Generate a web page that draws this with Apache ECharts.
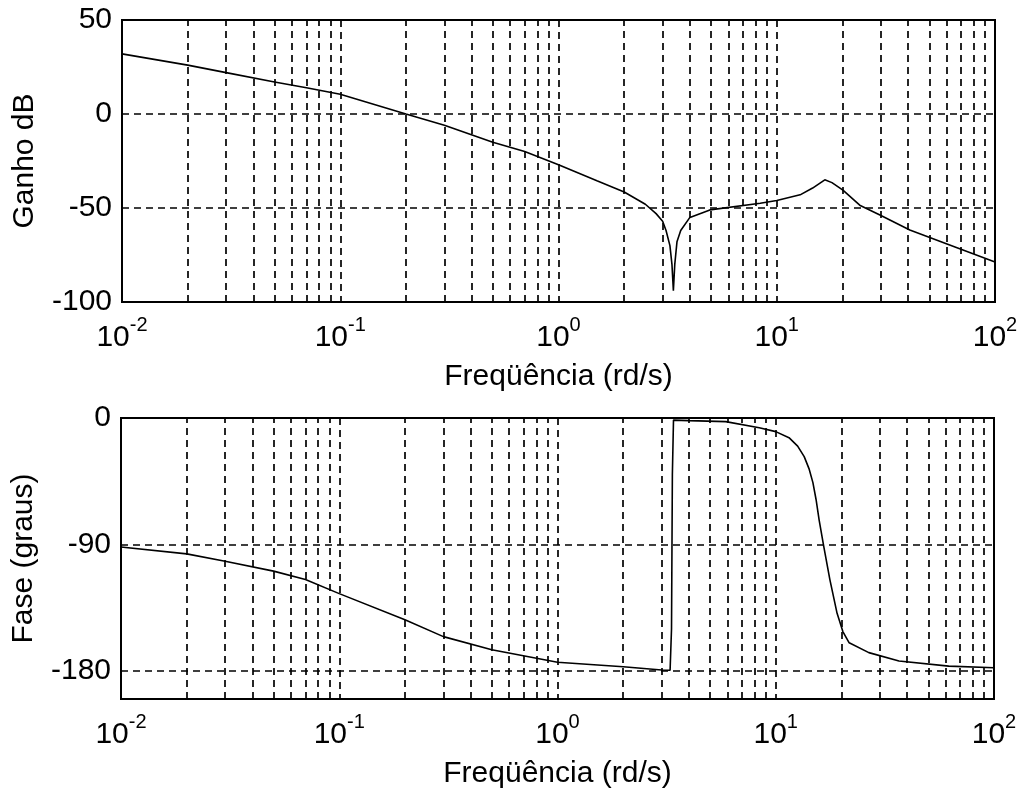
<!DOCTYPE html>
<html>
<head>
<meta charset="utf-8">
<script src="https://cdn.jsdelivr.net/npm/echarts@6/dist/echarts.min.js"></script>
<style>
html,body{margin:0;padding:0;background:#fff;}
#chart{width:1021px;height:797px;}
</style>
</head>
<body>
<div id="chart"></div>
<script>
// ---- data ----
const gainFreq = [0.01, 0.02, 0.03, 0.05, 0.07, 0.1, 0.2, 0.3, 0.5, 0.7, 1, 1.5, 2, 2.5, 2.8, 3.0, 3.11, 3.24, 3.31, 3.36, 3.41, 3.49, 3.63, 4.0, 4.94, 8.4, 10, 12.8, 14.6, 16.6, 17.9, 20.1, 24, 29.7, 40.7, 62, 100];
const gainDb   = [32, 26, 22, 17, 14, 10.5, 0, -6, -15, -20, -27, -35.5, -41.5, -48, -53, -57, -62, -70, -80, -94, -80, -68, -62, -55, -51, -47.5, -46, -43, -39.4, -35, -36.5, -40.5, -48.5, -53.7, -61.7, -69.7, -78.7];

const phaseFreq = [0.01, 0.02, 0.03, 0.05, 0.07, 0.1, 0.2, 0.3, 0.5, 1, 2, 3, 3.28, 3.33, 3.36, 3.4, 4.0, 5.9, 8.4, 10, 11.5, 12.6, 13.5, 14.2, 14.8, 15.3, 15.8, 16.6, 17.7, 19.1, 20.3, 21.7, 26.7, 36.7, 62, 100];
const phaseDeg  = [-91.8, -96.7, -102, -109, -115, -125, -143.6, -155.6, -165, -173.8, -177, -179.4, -179.5, -150, -40, -1.5, -1.9, -2.6, -7, -9.7, -14, -20, -27.5, -36, -46, -58, -72.5, -91.5, -115, -139, -152, -160, -167, -173, -176.6, -177.8];

const minorFreqs = [0.02,0.03,0.04,0.05,0.06,0.07,0.08,0.09,
                    0.2,0.3,0.4,0.5,0.6,0.7,0.8,0.9,
                    2,3,4,5,6,7,8,9,
                    20,30,40,50,60,70,80,90];
const gainTicks  = [-100, -50, 0, 50];
const phaseTicks = [0, -90, -180];

// ---- chart ----
const FONT = "'Liberation Sans', Arial, Helvetica, sans-serif";
const dash = {type: [7, 5], color: '#000', width: 1.7};

function expLabel(v) {
  const e = Math.round(Math.log10(v));
  return '{b|10}{e|' + e + '}';
}
const expRich = {
  b: {fontSize: 30, fontFamily: FONT, color: '#000'},
  e: {fontSize: 20, fontFamily: FONT, color: '#000', padding: [0, 0, 26, 0]}
};

function xAx(gi) {
  return {
    type: 'log', logBase: 10, min: 0.01, max: 100, gridIndex: gi,
    axisLine: {show: false}, axisTick: {show: false},
    splitLine: {show: true, lineStyle: dash},
    axisLabel: {formatter: expLabel, rich: expRich, margin: 13},
    name: 'Freqüência (rd/s)', nameLocation: 'middle', nameGap: 60,
    nameTextStyle: {fontSize: 30, fontFamily: FONT, color: '#000'}
  };
}

const chart = echarts.init(document.getElementById('chart'), null, {renderer: 'canvas'});
chart.setOption({
  animation: false,
  backgroundColor: '#fff',
  grid: [
    {left: 122, top: 20, width: 873, height: 282, show: true, borderColor: '#000', borderWidth: 2, backgroundColor: 'transparent'},
    {left: 121, top: 418, width: 873, height: 281, show: true, borderColor: '#000', borderWidth: 2, backgroundColor: 'transparent'}
  ],
  xAxis: [xAx(0), xAx(1)],
  yAxis: [
    {
      type: 'value', gridIndex: 0, min: gainTicks[0], max: gainTicks[gainTicks.length - 1], interval: 50,
      axisLine: {show: false}, axisTick: {show: false},
      splitLine: {show: true, lineStyle: dash},
      axisLabel: {fontSize: 30, fontFamily: FONT, color: '#000', margin: 10},
      name: 'Ganho dB', nameLocation: 'middle', nameRotate: 90, nameGap: 82,
      nameTextStyle: {fontSize: 30, fontFamily: FONT, color: '#000'}
    },
    {
      type: 'value', gridIndex: 1, min: -200, max: 0, interval: 10,
      axisLine: {show: false}, axisTick: {show: false}, splitLine: {show: false},
      axisLabel: {fontSize: 30, fontFamily: FONT, color: '#000', margin: 10,
        formatter: v => (phaseTicks.indexOf(v) >= 0 ? String(v) : '')},
      name: 'Fase (graus)', nameLocation: 'middle', nameRotate: 90, nameGap: 82,
      nameTextStyle: {fontSize: 30, fontFamily: FONT, color: '#000'}
    }
  ],
  series: [
    {
      type: 'line', xAxisIndex: 0, yAxisIndex: 0,
      data: gainFreq.map((f, i) => [f, gainDb[i]]),
      showSymbol: false, lineStyle: {color: '#000', width: 1.6}, silent: true,
      markLine: {
        silent: true, symbol: ['none', 'none'], label: {show: false},
        lineStyle: dash, animation: false,
        data: minorFreqs.map(f => ({xAxis: f}))
      }
    },
    {
      type: 'line', xAxisIndex: 1, yAxisIndex: 1,
      data: phaseFreq.map((f, i) => [f, phaseDeg[i]]),
      showSymbol: false, lineStyle: {color: '#000', width: 1.6}, silent: true,
      markLine: {
        silent: true, symbol: ['none', 'none'], label: {show: false},
        lineStyle: dash, animation: false,
        data: minorFreqs.map(f => ({xAxis: f})).concat(
          phaseTicks.filter(t => t !== 0).map(t => ({yAxis: t})))
      }
    }
  ]
});
</script>
</body>
</html>
